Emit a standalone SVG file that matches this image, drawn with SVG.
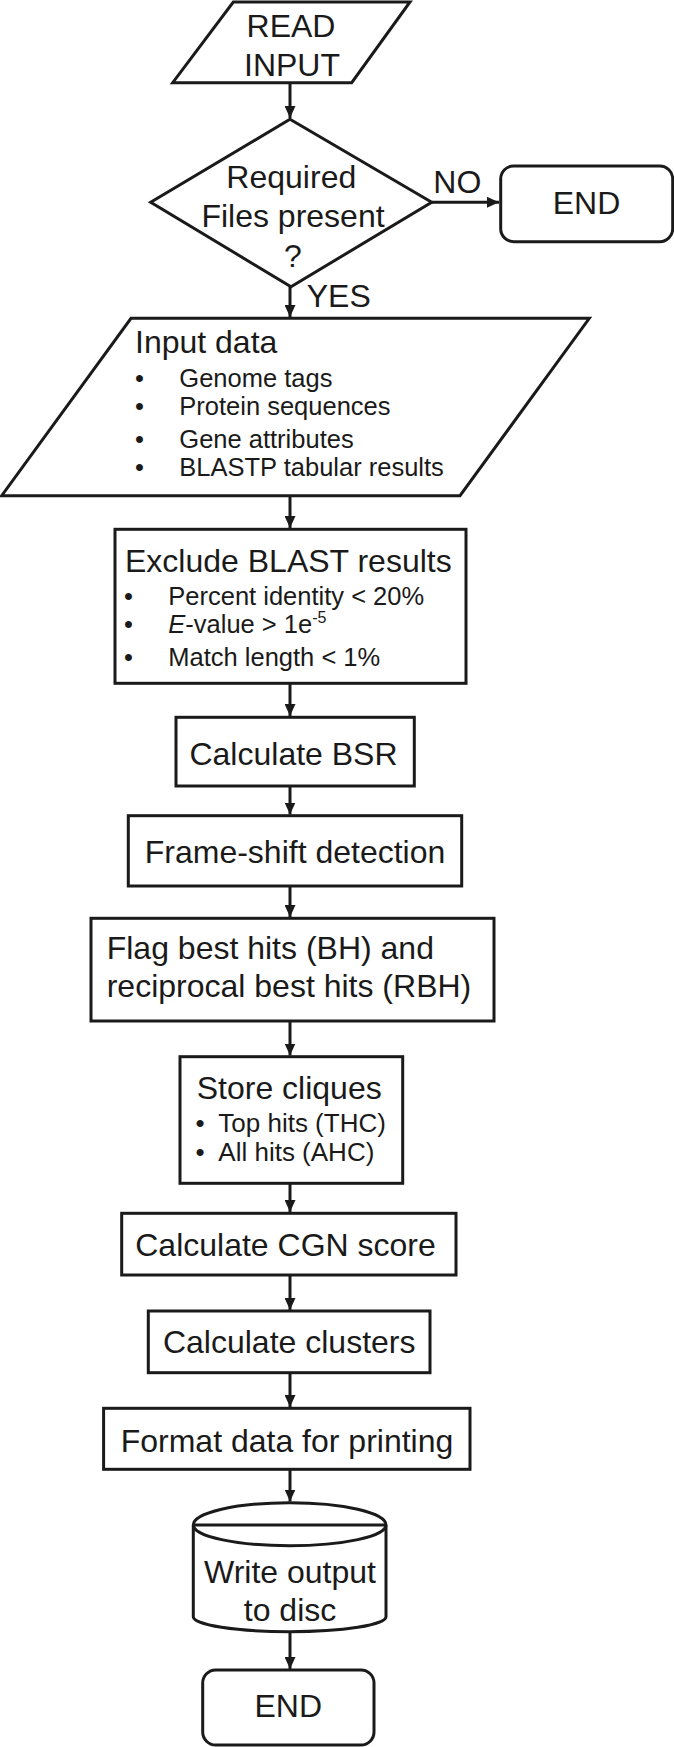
<svg xmlns="http://www.w3.org/2000/svg" width="674" height="1747" viewBox="0 0 674 1747">
<defs>
<marker id="ah" viewBox="0 0 12 11" refX="12" refY="5.5" markerWidth="12" markerHeight="11" markerUnits="userSpaceOnUse" orient="auto">
<path d="M0,0 L12,5.5 L0,11 z" fill="#1a1a1a"/>
</marker>
<style>
.s{fill:#fff;stroke:#1a1a1a;stroke-width:3;stroke-linejoin:miter}
.c{fill:none;stroke:#1a1a1a;stroke-width:3;marker-end:url(#ah)}
text{font-family:"Liberation Sans",Arial,sans-serif;fill:#1a1a1a}
.t{font-size:32px}
.m{text-anchor:middle}
.b{font-size:25.5px}
</style>
</defs>
<rect width="674" height="1747" fill="#fff"/>
<g id="connectors">
<line class="c" x1="290" y1="83" x2="290" y2="118"/>
<line class="c" x1="431.7" y1="202.3" x2="499" y2="202.3"/>
<line class="c" x1="290" y1="286.7" x2="290" y2="317"/>
<line class="c" x1="290" y1="495.7" x2="290" y2="528"/>
<line class="c" x1="290" y1="683.3" x2="290" y2="716"/>
<line class="c" x1="290" y1="786" x2="290" y2="814.5"/>
<line class="c" x1="290" y1="886" x2="290" y2="917"/>
<line class="c" x1="290" y1="1021" x2="290" y2="1055.5"/>
<line class="c" x1="290" y1="1183.3" x2="290" y2="1212"/>
<line class="c" x1="290" y1="1275" x2="290" y2="1310"/>
<line class="c" x1="290" y1="1372.7" x2="290" y2="1407"/>
<line class="c" x1="290" y1="1469.3" x2="290" y2="1501.5"/>
<line class="c" x1="290" y1="1631.7" x2="290" y2="1669"/>
<text class="t" x="433.3" y="193">NO</text>
<text class="t" x="306.7" y="307.3">YES</text>
</g>
<g id="read-input">
<polygon class="s" points="233.3,2 410,2 351.7,82.7 172.7,82.7"/>
<text class="t m" x="291" y="36.7">READ</text>
<text class="t m" x="292" y="76">INPUT</text>
</g>
<g id="decision">
<polygon class="s" points="290,119.3 431.7,202.3 291,286.7 150.7,202.3"/>
<text class="t m" x="291.3" y="188.3">Required</text>
<text class="t m" x="293" y="226.7">Files present</text>
<text class="t m" x="293" y="266.7">?</text>
</g>
<g id="end-top">
<rect class="s" x="500.7" y="166" width="172" height="75.7" rx="13" ry="13"/>
<text class="t m" x="586.5" y="214">END</text>
</g>
<g id="input-data">
<polygon class="s" points="131,318.3 589.3,318.3 460,495.7 1.7,495.7"/>
<text class="t" x="135" y="353.3">Input data</text>
<g class="b">
<text x="135" y="386.7">•</text><text x="179.3" y="386.7">Genome tags</text>
<text x="135" y="415">•</text><text x="179.3" y="415">Protein sequences</text>
<text x="135" y="447.7">•</text><text x="179.3" y="447.7">Gene attributes</text>
<text x="135" y="475.7">•</text><text x="179.3" y="475.7">BLASTP tabular results</text>
</g>
</g>
<g id="exclude">
<rect class="s" x="115" y="529.3" width="351" height="154"/>
<text class="t" x="125" y="571.7">Exclude BLAST results</text>
<g class="b">
<text x="124" y="605">•</text><text x="168.3" y="605">Percent identity &lt; 20%</text>
<text x="124" y="633.3">•</text><text x="168.3" y="633.3"><tspan font-style="italic">E</tspan>-value &gt; 1e<tspan font-size="16" dy="-10">-5</tspan></text>
<text x="124" y="666">•</text><text x="168.3" y="666">Match length &lt; 1%</text>
</g>
</g>
<g id="bsr">
<rect class="s" x="176" y="717.3" width="238.3" height="68.7"/>
<text class="t m" x="293.5" y="765">Calculate BSR</text>
</g>
<g id="frameshift">
<rect class="s" x="128.3" y="815.7" width="333.4" height="70.3"/>
<text class="t m" x="295" y="862.7">Frame-shift detection</text>
</g>
<g id="flag">
<rect class="s" x="91" y="918.3" width="403" height="102.7"/>
<text class="t" x="106.7" y="959.3">Flag best hits (BH) and</text>
<text class="t" x="106.7" y="996.7">reciprocal best hits (RBH)</text>
</g>
<g id="cliques">
<rect class="s" x="180" y="1056.7" width="222.7" height="126.6"/>
<text class="t" x="196.7" y="1099.3">Store cliques</text>
<text font-size="26" x="195.5" y="1131.7">•</text><text font-size="26" x="218.3" y="1131.7">Top hits (THC)</text>
<text font-size="26" x="195.5" y="1160.7">•</text><text font-size="26" x="218.3" y="1160.7">All hits (AHC)</text>
</g>
<g id="cgn">
<rect class="s" x="121.7" y="1213.3" width="334.3" height="61.7"/>
<text class="t m" x="285.5" y="1256">Calculate CGN score</text>
</g>
<g id="clusters">
<rect class="s" x="148.3" y="1311" width="281.7" height="61.7"/>
<text class="t m" x="289.2" y="1352.7">Calculate clusters</text>
</g>
<g id="format">
<rect class="s" x="103.6" y="1408.3" width="366.4" height="61"/>
<text class="t m" x="287" y="1451.7">Format data for printing</text>
</g>
<g id="write-output">
<path class="s" d="M193.3,1525 A96.35,22.3 0 0 1 386,1525 L386,1616.7 A96.35,15 0 0 1 193.3,1616.7 Z"/>
<path d="M193.3,1525 L386,1525 M193.3,1525 A96.35,20.7 0 0 0 386,1525" style="fill:none;stroke:#1a1a1a;stroke-width:3"/>
<text class="t m" x="290" y="1583.3">Write output</text>
<text class="t m" x="290" y="1620.7">to disc</text>
</g>
<g id="end-bottom">
<rect class="s" x="202.7" y="1670" width="171.3" height="75" rx="13" ry="13"/>
<text class="t m" x="288.3" y="1716.7">END</text>
</g>
</svg>
